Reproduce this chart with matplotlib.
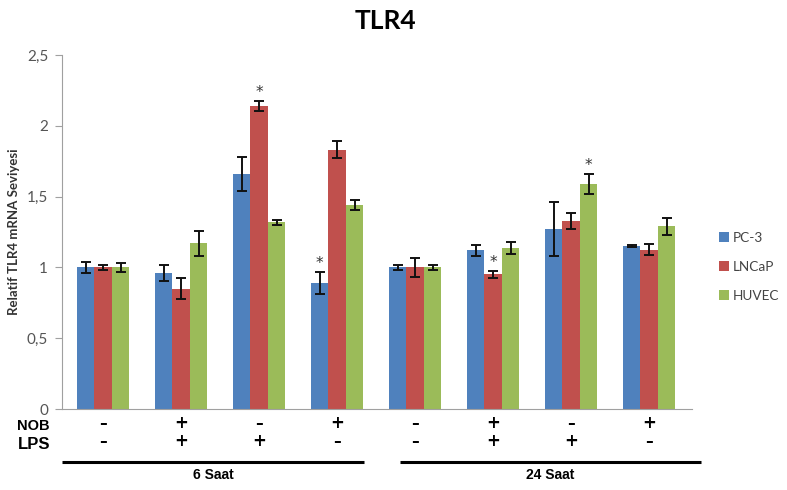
import matplotlib
matplotlib.use("Agg")
import matplotlib.pyplot as plt
import numpy as np
from matplotlib.transforms import blended_transform_factory

series_names = ["PC-3", "LNCaP", "HUVEC"]
colors = ["#4F81BD", "#C0504D", "#9BBB59"]

pc3 = [1.00, 0.96, 1.66, 0.89, 1.00, 1.12, 1.27, 1.15]
pc3_err = [0.04, 0.055, 0.12, 0.08, 0.02, 0.037, 0.19, 0.005]
lncap = [1.00, 0.85, 2.14, 1.83, 1.00, 0.95, 1.33, 1.125]
lncap_err = [0.015, 0.075, 0.035, 0.06, 0.065, 0.028, 0.057, 0.04]
huvec = [1.00, 1.17, 1.32, 1.44, 1.00, 1.14, 1.59, 1.29]
huvec_err = [0.03, 0.09, 0.018, 0.035, 0.02, 0.042, 0.07, 0.062]

nob = ["-", "+", "-", "+", "-", "+", "-", "+"]
lps = ["-", "+", "+", "-", "-", "+", "+", "-"]
time_labels = ["6 Saat", "24 Saat"]
# significance markers: (series index, group index)
stars = [(1, 2), (0, 3), (1, 5), (2, 6)]

yticks = [0, 0.5, 1, 1.5, 2, 2.5]
ytick_labels = ["0", "0,5", "1", "1,5", "2", "2,5"]

fig = plt.figure(figsize=(7.87, 4.90), dpi=100)
ax = fig.add_axes([62/787, 1-409/490, (692-62)/787, (409-55)/490])

x = np.arange(len(pc3))
w = 0.225
vals = [pc3, lncap, huvec]
errs = [pc3_err, lncap_err, huvec_err]
for i, (v, e, c, n) in enumerate(zip(vals, errs, colors, series_names)):
    ax.bar(x + (i-1)*w, v, w, color=c, label=n,
           yerr=e, error_kw=dict(ecolor="#111111", elinewidth=1.4, capsize=3.5, capthick=1.4))

for si, gi in stars:
    xx = gi + (si-1)*w
    top = vals[si][gi] + errs[si][gi]
    ax.text(xx, top + 0.005, "*", ha="center", va="bottom", fontsize=11, color="#333333")

ax.set_xlim(-0.527, 7.55)
ax.set_ylim(0, 2.5)
ax.set_yticks(yticks)
ax.set_yticklabels(ytick_labels, fontsize=11, color="#555555", family="Lato")
ax.set_xticks([])
for s in ["top", "right"]:
    ax.spines[s].set_visible(False)
ax.spines["left"].set_color("#A0A0A0")
ax.spines["bottom"].set_color("#A0A0A0")
ax.tick_params(axis="y", direction="out", length=5, color="#A0A0A0", pad=5)
ax.set_ylabel("Relatif TLR4 mRNA Seviyesi", fontsize=9.5, fontweight="bold",
              color="#333333", family="Lato", labelpad=5)

fig.text(385/787, 1-21/490, "TLR4", ha="center", va="center", fontsize=19,
         fontweight="bold", family="Lato")

tr = blended_transform_factory(ax.transData, fig.transFigure)
def sign(xp, yp, s):
    if s == "-":
        ax.text(xp, yp, "\u2013", transform=tr, ha="center", va="center",
                fontsize=11, fontweight="bold", family="DejaVu Sans")
    else:
        ax.text(xp, yp, "+", transform=tr, ha="center", va="center",
                fontsize=12, fontweight="bold", family="DejaVu Sans")
for i in range(len(nob)):
    sign(x[i], 1-423/490, nob[i])
    sign(x[i], 1-441/490, lps[i])
fig.text(33/787, 1-426/490, "NOB", ha="center", va="center", fontsize=10.5,
         fontweight="bold", family="Liberation Sans")
fig.text(34/787, 1-444/490, "LPS", ha="center", va="center", fontsize=12,
         fontweight="bold", family="Liberation Sans")

spans = [(-0.53, 3.35), (3.8, 7.67)]
for (a, b), lab in zip(spans, time_labels):
    ax.plot([a, b], [1-462/490]*2, transform=tr, color="black", lw=2.2,
            clip_on=False, solid_capstyle="butt")
    ax.text((a+b)/2, 1-475/490, lab, transform=tr, ha="center", va="center",
            fontsize=10, fontweight="bold", family="Liberation Sans")

leg = fig.legend(loc="center left", bbox_to_anchor=(716/787, 1-267/490), frameon=False,
                 handlelength=0.75, handleheight=0.75, handletextpad=0.25,
                 labelspacing=1.25, borderpad=0.2, borderaxespad=0.0,
                 prop=dict(family="Lato", size=9.8))
for t in leg.get_texts():
    t.set_color("#444444")

fig.savefig("out.png", dpi=100)
